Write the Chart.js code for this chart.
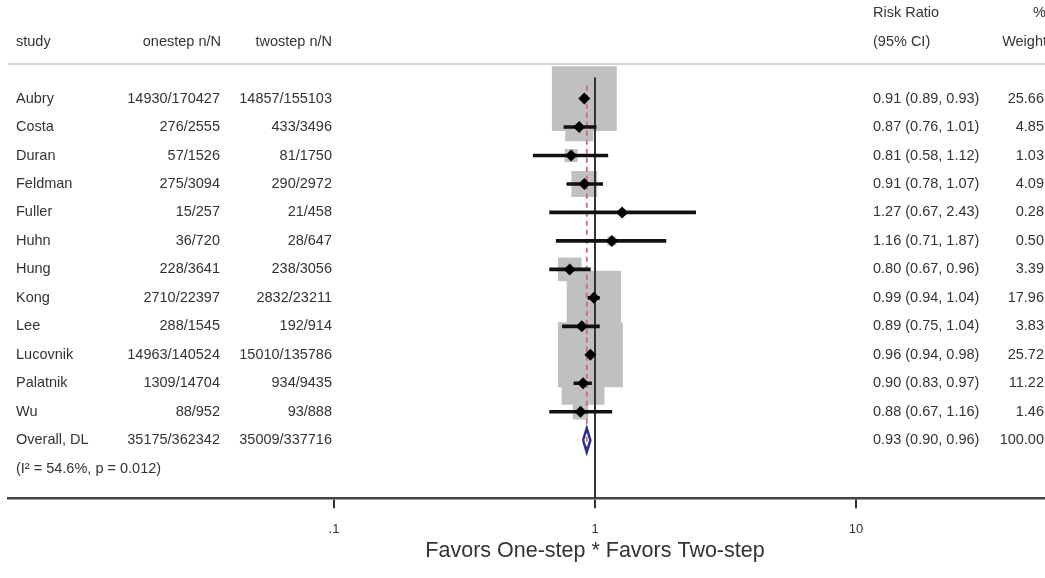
<!DOCTYPE html>
<html>
<head>
<meta charset="utf-8">
<title>Forest plot</title>
<script src="https://cdn.jsdelivr.net/npm/chart.js@4.4.0/dist/chart.umd.min.js"></script>
<style>
    body { margin: 0; background: #fff; }
    canvas { display: block; }
</style>
</head>
<body>
<canvas id="myChart" width="1045" height="578"></canvas>
<script>
// datos
const estudios = ['Aubry', 'Costa', 'Duran', 'Feldman', 'Fuller', 'Huhn', 'Hung', 'Kong', 'Lee', 'Lucovnik', 'Palatnik', 'Wu'];
const onestep = ['14930/170427', '276/2555', '57/1526', '275/3094', '15/257', '36/720', '228/3641', '2710/22397', '288/1545', '14963/140524', '1309/14704', '88/952'];
const twostep = ['14857/155103', '433/3496', '81/1750', '290/2972', '21/458', '28/647', '238/3056', '2832/23211', '192/914', '15010/135786', '934/9435', '93/888'];
const rr = [0.91, 0.87, 0.81, 0.91, 1.27, 1.16, 0.80, 0.99, 0.89, 0.96, 0.90, 0.88];
const rrBajo = [0.89, 0.76, 0.58, 0.78, 0.67, 0.71, 0.67, 0.94, 0.75, 0.94, 0.83, 0.67];
const rrAlto = [0.93, 1.01, 1.12, 1.07, 2.43, 1.87, 0.96, 1.04, 1.04, 0.98, 0.97, 1.16];
const pesos = [25.66, 4.85, 1.03, 4.09, 0.28, 0.50, 3.39, 17.96, 3.83, 25.72, 11.22, 1.46];

const totalNombre = 'Overall, DL';
const totalOnestep = '35175/362342';
const totalTwostep = '35009/337716';
const totalRR = [0.93, 0.90, 0.96]; // estimado, bajo, alto
const totalPeso = 100.00;
const heterogeneidad = '(I\u00B2 = 54.6%, p = 0.012)';

const xTicks = [0.1, 1, 10];
const xTickLabels = ['.1', '1', '10'];

const fuente = '"Liberation Sans", Arial, sans-serif';
const filaTotal = estudios.length;

const textos = {
    id: 'textos',
    beforeDatasetsDraw(chart) {
        const ctx = chart.ctx;
        const y = chart.scales.y.getPixelForValue(-1.21);
        ctx.save();
        ctx.strokeStyle = '#d2d2d2';
        ctx.lineWidth = 2;
        ctx.beginPath();
        ctx.moveTo(8, y);
        ctx.lineTo(1045, y);
        ctx.stroke();
        ctx.restore();
    },
    afterDraw(chart) {
        const ctx = chart.ctx;
        const ys = chart.scales.y;
        const xs = chart.scales.x;
        const escribir = (txt, x, fila, align) => {
            ctx.textAlign = align;
            ctx.fillText(txt, x, ys.getPixelForValue(fila));
        };
        ctx.save();
        ctx.fillStyle = '#333';
        ctx.textBaseline = 'middle';
        ctx.font = '14.5px ' + fuente;

        escribir('Risk Ratio', 873, -3, 'left');
        escribir('%', 1046, -3, 'right');
        escribir('study', 16, -1.97, 'left');
        escribir('onestep n/N', 221, -1.97, 'right');
        escribir('twostep n/N', 332, -1.97, 'right');
        escribir('(95% CI)', 873, -1.97, 'left');
        escribir('Weight', 1047, -1.97, 'right');

        estudios.forEach((nombre, i) => {
            escribir(nombre, 16, i, 'left');
            escribir(onestep[i], 220, i, 'right');
            escribir(twostep[i], 332, i, 'right');
            escribir(`${rr[i].toFixed(2)} (${rrBajo[i].toFixed(2)}, ${rrAlto[i].toFixed(2)})`, 873, i, 'left');
            escribir(pesos[i].toFixed(2), 1044, i, 'right');
        });
        escribir(totalNombre, 16, filaTotal, 'left');
        escribir(totalOnestep, 220, filaTotal, 'right');
        escribir(totalTwostep, 332, filaTotal, 'right');
        escribir(`${totalRR[0].toFixed(2)} (${totalRR[1].toFixed(2)}, ${totalRR[2].toFixed(2)})`, 873, filaTotal, 'left');
        escribir(totalPeso.toFixed(2), 1044, filaTotal, 'right');
        escribir(heterogeneidad, 16, filaTotal + 1, 'left');

        ctx.font = '21.5px ' + fuente;
        ctx.textAlign = 'center';
        ctx.fillText('Favors One-step * Favors Two-step', xs.getPixelForValue(1), 551);
        ctx.restore();
    }
};

const yMin = -3.462;
const yMax = 14.04;
const mitadRombo = 0.42;

var ctx1 = document.getElementById('myChart').getContext('2d');
var myChart = new Chart(ctx1, {
    type: 'scatter',
    data: {
        datasets: [
            {
                label: 'peso',
                data: rr.map((v, i) => ({ x: v, y: i })),
                pointStyle: 'rect',
                pointRadius: estudios.map((n, i) => 12.8 * Math.sqrt(pesos[i]) / Math.SQRT2),
                backgroundColor: '#c0c0c0',
                borderWidth: 0,
                order: 6
            },
            {
                label: 'nulo',
                data: [{ x: 1, y: -0.74 }, { x: 1, y: yMax }],
                showLine: true,
                borderColor: '#333',
                borderWidth: 2,
                pointRadius: 0,
                order: 5
            },
            {
                label: 'global',
                data: [{ x: totalRR[0], y: -0.45 }, { x: totalRR[0], y: filaTotal + 0.44 }],
                showLine: true,
                borderColor: '#cc6b6b',
                borderWidth: 1.8,
                borderDash: [5, 4],
                pointRadius: 0,
                order: 4
            },
            {
                type: 'bar',
                label: 'IC',
                indexAxis: 'y',
                data: rr.map((v, i) => ({ x: [rrBajo[i], rrAlto[i]], y: i })),
                backgroundColor: '#111',
                borderWidth: 0,
                barThickness: 3,
                order: 3
            },
            {
                label: 'RR',
                data: rr.map((v, i) => ({ x: v, y: i })),
                pointStyle: 'rectRot',
                pointRadius: 6,
                backgroundColor: '#000',
                borderWidth: 0,
                order: 2
            },
            {
                label: 'rombo',
                data: [
                    { x: totalRR[1], y: filaTotal },
                    { x: totalRR[0], y: filaTotal - mitadRombo },
                    { x: totalRR[2], y: filaTotal },
                    { x: totalRR[0], y: filaTotal + mitadRombo },
                    { x: totalRR[1], y: filaTotal }
                ],
                showLine: true,
                borderColor: '#2e3192',
                borderWidth: 2.5,
                pointRadius: 0,
                order: 1
            }
        ]
    },
    options: {
        responsive: false,
        animation: false,
        layout: { autoPadding: false, padding: { left: 8, right: 0, top: 0, bottom: 27.7 } },
        plugins: {
            legend: { display: false },
            tooltip: { enabled: false }
        },
        scales: {
            x: {
                type: 'logarithmic',
                min: 0.005636,
                max: 52.98,
                bounds: 'data',
                afterBuildTicks: (scale) => {
                    scale.ticks = xTicks.map(v => ({ value: v }));
                },
                ticks: {
                    autoSkip: false,
                    maxRotation: 0,
                    padding: 13.2,
                    color: '#333',
                    font: { family: fuente, size: 13 },
                    callback: (value) => xTickLabels[xTicks.indexOf(value)]
                },
                grid: {
                    drawOnChartArea: false,
                    drawTicks: true,
                    tickLength: 10,
                    color: '#333',
                    lineWidth: 2
                },
                border: { display: true, color: '#444', width: 2.5 }
            },
            y: {
                type: 'linear',
                display: false,
                reverse: true,
                offset: false,
                min: yMin,
                max: yMax
            }
        }
    },
    plugins: [textos]
});
</script>
</body>
</html>
